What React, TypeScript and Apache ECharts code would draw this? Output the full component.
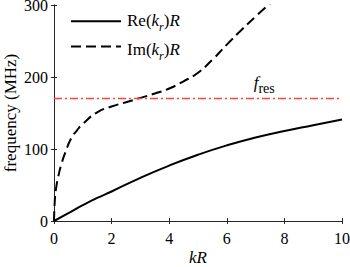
import React, { useEffect, useRef } from "react";
import * as echarts from "echarts";

const reKR = [0, 0.5, 1, 1.5, 2, 3, 4, 5, 6, 7, 8, 9, 10];
const reFreq = [0, 11, 22, 32, 41, 60, 77, 92, 105, 116, 125, 133, 141];
const imKR = [0, 0.03, 0.07, 0.15, 0.25, 0.4, 0.6, 0.8, 1, 1.5, 2, 2.5, 3, 3.5, 4, 4.5, 5, 5.5, 6, 6.5, 7, 7.5];
const imFreq = [0, 30, 45, 62, 78, 96, 115, 126, 135, 151, 159, 165, 171, 177, 184, 194, 206, 224, 245, 265, 284, 302];
const fRes = 171;
const xTicks = { min: 0, max: 10, interval: 2 };
const yTicks = { min: 0, max: 300, interval: 100 };
const legendLabels = ["{n|Re(}{i|k}{s|r}{n|)}{i|R}", "{n|Im(}{i|k}{s|r}{n|)}{i|R}"];
const xName = "kR";
const yName = "frequency (MHz)";

const FONT = "Liberation Serif";
const AX = "#262626";

export default function App() {
  const ref = useRef<HTMLDivElement>(null);
  useEffect(() => {
    const chart = echarts.init(ref.current!, null, { renderer: "svg" });
    const rich = {
      n: { fontFamily: FONT, fontSize: 17, fill: "#000", color: "#000" },
      i: { fontFamily: FONT, fontSize: 17, fontStyle: "italic", fill: "#000", color: "#000" },
      s: { fontFamily: FONT, fontSize: 12, fontStyle: "italic", fill: "#000", color: "#000", padding: [12, 0, 0, 0] },
      sn: { fontFamily: FONT, fontSize: 14, fill: "#000", color: "#000", padding: [12, 0, 0, 0] },
    };
    const axisCommon = {
      axisLine: { show: true, lineStyle: { color: AX, width: 1 } },
      axisTick: { show: true, inside: true, length: 3, lineStyle: { color: AX } },
      splitLine: { show: false },
    };
    chart.setOption({
      animation: false,
      textStyle: { fontFamily: FONT },
      grid: { left: 54, right: 8, top: 5, bottom: 46, outerBoundsMode: "none" },
      legend: {
        orient: "vertical",
        left: 65,
        top: 9,
        itemWidth: 50,
        itemHeight: 18,
        itemGap: 11,
        data: ["Re", "Im"],
        itemStyle: { opacity: 0 },
        textStyle: { fontFamily: FONT, fontSize: 12 },
        formatter: () => " ",
      },
      graphic: [
        {
          type: "text",
          left: 127,
          top: 12,
          style: { text: legendLabels[0], rich, fontFamily: FONT, fontSize: 17, fill: "#000" },
        },
        {
          type: "text",
          left: 127,
          top: 41,
          style: { text: legendLabels[1], rich, fontFamily: FONT, fontSize: 17, fill: "#000" },
        },
        {
          type: "text",
          x: 10,
          y: 113,
          rotation: Math.PI / 2,
          style: { text: yName, fontFamily: FONT, fontSize: 17, fill: "#000", align: "center", verticalAlign: "middle" },
        },
        {
          type: "text",
          x: 198,
          y: 257,
          style: { text: xName, fontFamily: FONT, fontStyle: "italic", fontSize: 17, fill: "#000", align: "center", verticalAlign: "middle" },
        },
      ],
      xAxis: [
        {
          type: "value",
          ...xTicks,
          ...axisCommon,
          axisLabel: { fontFamily: FONT, fontSize: 16, color: "#000", margin: 9 },
        },
        {
          type: "value",
          position: "top",
          ...xTicks,
          ...axisCommon,
          axisLabel: { show: false },
        },
      ],
      yAxis: [
        {
          type: "value",
          ...yTicks,
          ...axisCommon,
          axisLabel: { fontFamily: FONT, fontSize: 16, color: "#000", margin: 6 },
        },
        {
          type: "value",
          position: "right",
          ...yTicks,
          ...axisCommon,
          axisLabel: { show: false },
        },
      ],
      series: [
        {
          name: "Re",
          type: "line",
          data: reKR.map((x, i) => [x, reFreq[i]]),
          showSymbol: false,
          symbol: "none",
          smooth: 0.5,
          lineStyle: { color: "#000", width: 2 },
          itemStyle: { color: "#000" },
          markLine: {
            silent: true,
            symbol: "none",
            label: { show: false },
            lineStyle: { color: "#ff4040", width: 1.3, type: [8, 3, 2, 3], opacity: 1 },
            data: [{ yAxis: fRes }],
          },
          markPoint: {
            symbol: "circle",
            symbolSize: 0,
            label: {
              show: true,
              position: "top",
              distance: 2,
              fontFamily: FONT,
              formatter: "{i|f}{sn|res}",
              rich,
            },
            data: [{ coord: [7.3, fRes] }],
          },
        },
        {
          name: "Im",
          type: "line",
          data: imKR.map((x, i) => [x, imFreq[i]]),
          showSymbol: false,
          symbol: "none",
          smooth: 0.5,
          clip: true,
          lineStyle: { color: "#000", width: 2, type: [10, 5] },
          itemStyle: { color: "#000" },
        },
      ],
    });
    return () => chart.dispose();
  }, []);
  return (
    <div
      ref={ref}
      style={{ position: "fixed", left: 0, top: 0, width: 350, height: 267, background: "#fff" }}
    />
  );
}
